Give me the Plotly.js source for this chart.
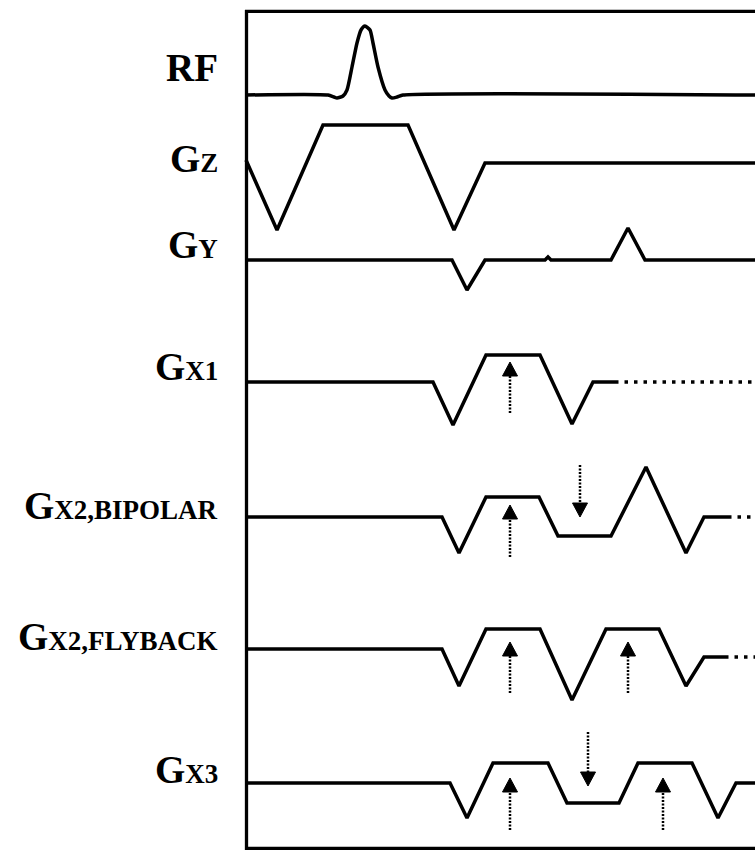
<!DOCTYPE html>
<html><head><meta charset="utf-8">
<script src="https://cdn.plot.ly/plotly-3.0.1.min.js"></script>
<style>html,body{margin:0;padding:0;background:#fff;}</style>
</head><body><div id="chart" style="width:755px;height:851px;"></div>
<script>
// Time (units from start of frame) and amplitude (positive = up) for each channel
const rfT  = [0, 82, 88, 91, 97, 101, 106, 111, 115, 119, 124, 127, 132, 139, 143, 146, 151, 157, 509];
const rfA  = [0, 0, -2, -3, -1, 5, 28, 52, 65, 69, 65, 52, 28, 5, -1, -3, -2, 0, 0];
const gzT  = [0, 31, 77, 162, 208, 239, 509];
const gzA  = [3, -67, 38, 38, -67, 0, 0];
const gyT  = [0, 206, 221, 239, 299, 302, 305, 365, 382, 399, 509];
const gyA  = [0, 0, -30, 0, 0, 3, 0, 0, 32, 0, 0];
const gx1T = [0, 187, 207, 240, 294, 326, 347, 369];
const gx1A = [0, 0, -43, 27, 27, -42, 0, 0];
const gx1DotT = [369, 509];
const gx1DotA = [0, 0];
const gx2bT = [0, 196, 213, 240, 293, 312, 365, 400, 440, 458, 482];
const gx2bA = [0, 0, -36, 20, 20, -19, -19, 50, -36, 0, 0];
const gx2bDotT = [482, 509];
const gx2bDotA = [0, 0];
const gx2fT = [0, 196, 213, 240, 294, 326, 360, 413, 440, 458, 479];
const gx2fA = [0, 0, -37, 20, 20, -51, 20, 20, -37, -8, -8];
const gx2fDotT = [479, 509];
const gx2fDotA = [-8, -8];
const gx3T = [0, 204, 221, 247, 302, 321, 373, 392, 446, 472, 490, 509];
const gx3A = [0, 0, -35, 20, 20, -20, -20, 20, 20, -35, 0, 0];

// Readout arrows (time, tip, tail)
const arrowT    = [264, 264, 334, 264, 382, 264, 417, 342];
const arrowTip  = [362, 505, 517, 642, 642, 778, 778, 786];
const arrowTail = [413, 557, 465, 693, 693, 830, 830, 732];

// Channel labels
const labelMain = ['RF', 'G', 'G', 'G', 'G', 'G', 'G'];
const labelSub  = ['', 'Z', 'Y', 'X1', 'X2,BIPOLAR', 'X2,FLYBACK', 'X3'];

// ---- layout constants (positions / styles) ----
const baseline = [95, 163, 260, 382, 517, 649, 783]; // lane baselines (px from top)
const labelY   = [67, 158, 244, 366, 505, 636, 769];
const LW = 3.5;
const headW = 15, headH = 14;

function lane(t, a, i, extra) {
  return Object.assign({
    x: t, y: a.map(v => baseline[i] - v), mode: 'lines', type: 'scatter',
    line: {color: '#000', width: LW}, hoverinfo: 'skip', showlegend: false
  }, extra || {});
}
const dotStyle = {line: {color: '#000', width: LW, dash: '3.5px,6px'}};

const traces = [
  lane(rfT, rfA, 0, {line: {color: '#000', width: LW, shape: 'spline', smoothing: 0.6}}),
  lane(gzT, gzA, 1),
  lane(gyT, gyA, 2),
  lane(gx1T, gx1A, 3),
  lane(gx1DotT, gx1DotA, 3, dotStyle),
  lane(gx2bT, gx2bA, 4),
  lane(gx2bDotT, gx2bDotA, 4, dotStyle),
  lane(gx2fT, gx2fA, 5),
  lane(gx2fDotT, gx2fDotA, 5, dotStyle),
  lane(gx3T, gx3A, 6)
];

arrowT.forEach((x, k) => {
  const tip = arrowTip[k], tail = arrowTail[k];
  const dir = tail > tip ? 1 : -1; // 1 = pointing up
  const base = tip + dir * headH;
  traces.push({
    x: [x, x], y: [tail, base - dir * 1], mode: 'lines', type: 'scatter',
    line: {color: '#000', width: 2.5, dash: '2px,1.5px'}, hoverinfo: 'skip', showlegend: false
  });
  traces.push({
    x: [x - headW / 2, x, x + headW / 2, x - headW / 2], y: [base, tip, base, base],
    mode: 'lines', fill: 'toself', fillcolor: '#000', type: 'scatter',
    line: {color: '#000', width: 1}, hoverinfo: 'skip', showlegend: false
  });
});

const annotations = labelMain.map((m, i) => ({
  x: -26, y: labelY[i], xref: 'x', yref: 'y', xanchor: 'right', yanchor: 'middle',
  showarrow: false,
  text: '<b>' + m + (labelSub[i] ? '<span style="font-size:27px">' + labelSub[i] + '</span>' : '') + '</b>',
  font: {family: 'Liberation Serif, Times New Roman, serif', size: 39, color: '#000'}
}));

const frame = [
  {type: 'line', xref: 'x', yref: 'y', x0: 0.5, x1: 0.5, y0: 10, y1: 850, line: {color: '#000', width: 3.3}},
  {type: 'line', xref: 'x', yref: 'y', x0: -1, x1: 509, y0: 11.3, y1: 11.3, line: {color: '#000', width: 3.3}},
  {type: 'line', xref: 'x', yref: 'y', x0: -1, x1: 509, y0: 848.3, y1: 848.3, line: {color: '#000', width: 3.3}}
];

const layout = {
  width: 755, height: 851,
  margin: {l: 0, r: 0, t: 0, b: 0, pad: 0},
  paper_bgcolor: '#fff', plot_bgcolor: '#fff',
  xaxis: {range: [-246, 509], domain: [0, 1], visible: false, fixedrange: true},
  yaxis: {range: [851, 0], domain: [0, 1], visible: false, fixedrange: true},
  shapes: frame,
  annotations: annotations,
  showlegend: false
};

Plotly.newPlot('chart', traces, layout, {displayModeBar: false, staticPlot: true});
</script>
</body></html>
